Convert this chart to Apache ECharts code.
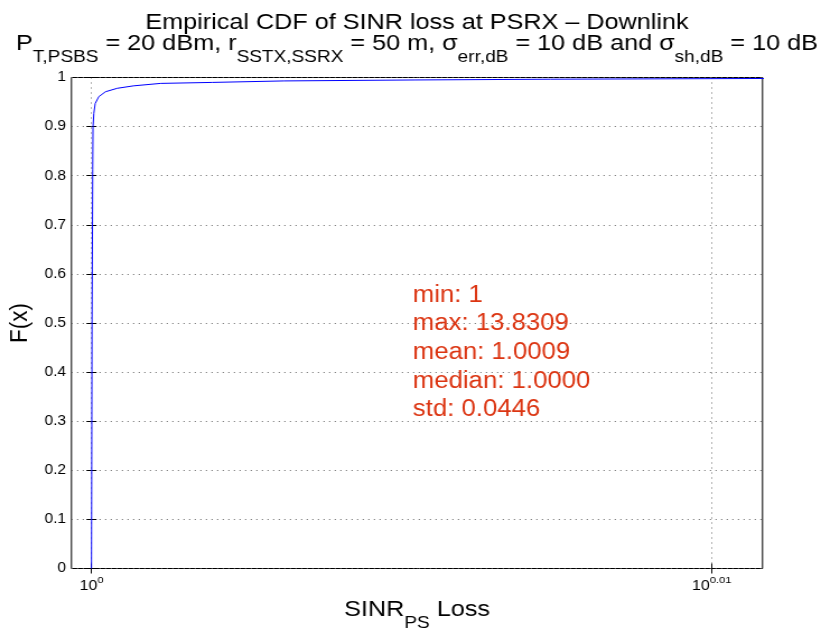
<!DOCTYPE html>
<html>
<head>
<meta charset="utf-8">
<script src="https://cdn.jsdelivr.net/npm/echarts@6/dist/echarts.min.js"></script>
<style>
  html, body { margin: 0; padding: 0; background: #fff; overflow: hidden; }
  #wrap { width: 821px; height: 633px; overflow: hidden; }
  /* the figure is laid out on a narrower canvas and widened to the page */
  #chart { width: 733px; height: 633px; transform-origin: 0 0; transform: scaleX(1.12005); }
</style>
</head>
<body>
<div id="wrap"><div id="chart"></div></div>
<script>
// Empirical CDF samples: SINR loss (linear) and F(x)
const lossValues = [1.0, 1.00002, 1.000045, 1.000056, 1.000086, 1.000137, 1.000271,
                    1.00052, 1.000955, 1.00156, 1.00257, 1.0045, 1.00716, 1.0121,
                    1.01719, 1.0253, 13.8309];
const cdfValues  = [0, 0.5, 0.812, 0.9, 0.927, 0.947, 0.961,
                    0.971, 0.978, 0.983, 0.988, 0.990, 0.993, 0.995,
                    0.9965, 0.998, 1];

// decade exponents shown on the log x axis
const xTickExponents = [0, 0.01];
// summary statistics printed inside the axes
const statLines = ['min: 1', 'max: 13.8309', 'mean: 1.0009', 'median: 1.0000', 'std: 0.0446'];

const titleLine1 = 'Empirical CDF of SINR loss at PSRX \u2013 Downlink';
const titleLine2 = '{m|P}{s|T,PSBS}{m| = 20 dBm, r}{s|SSTX,SSRX}{m| = 50 m, \u03c3}{s|err,dB}{m| = 10 dB and \u03c3}{s|sh,dB}{m| = 10 dB}';

const FONT = '"Liberation Sans", Arial, Helvetica, sans-serif';

const seriesData = lossValues.map((v, i) => [Math.log10(v), cdfValues[i]]);

const chart = echarts.init(document.getElementById('chart'), null, { renderer: 'canvas' });

const xMinExp = -0.000323;
const xMaxExp = 0.01082;

const dotted = { color: '#666', width: 1, type: [1, 4] };

function xAxisCommon(pos, showLabel) {
  return {
    type: 'value',
    position: pos,
    min: xMinExp,
    max: xMaxExp,
    gridIndex: 0,
    axisLine: { show: false },
    axisTick: { show: true, inside: true, length: 5, customValues: xTickExponents,
                lineStyle: { color: '#000', width: 1 } },
    splitLine: { show: pos === 'bottom', lineStyle: dotted },
    axisLabel: {
      show: showLabel,
      customValues: xTickExponents,
      margin: 7,
      formatter: v => '{b|10}{s|' + String(+v.toFixed(4)) + '}',
      rich: {
        b: { fontFamily: FONT, fontSize: 14.3, color: '#000', lineHeight: 17, verticalAlign: 'top', padding: [4, 0, 0, 0] },
        s: { fontFamily: FONT, fontSize: 9.9, color: '#000', lineHeight: 11, verticalAlign: 'top' }
      }
    }
  };
}

function yAxisCommon(pos, showLabel) {
  return {
    type: 'value',
    position: pos,
    min: 0,
    max: 1,
    interval: 0.1,
    axisLine: { show: false },
    axisTick: { show: true, inside: true, length: 4.5, lineStyle: { color: '#000', width: 1 } },
    splitLine: { show: pos === 'left', lineStyle: dotted },
    axisLabel: { show: showLabel, margin: 4.9, fontFamily: FONT, fontSize: 13.8, color: '#000' }
  };
}

const xBottom = xAxisCommon('bottom', true);
xBottom.name = '{m|SINR}{s|PS}{m| Loss}';
xBottom.nameLocation = 'middle';
xBottom.nameGap = 28.5;
xBottom.nameTextStyle = {
  rich: {
    m: { fontFamily: FONT, fontSize: 22.5, color: '#000', lineHeight: 22, verticalAlign: 'top' },
    s: { fontFamily: FONT, fontSize: 17, color: '#000', lineHeight: 17, verticalAlign: 'top', padding: [16.7, 0, 0, 0] }
  }
};

const yLeft = yAxisCommon('left', true);
yLeft.name = 'F(x)';
yLeft.nameLocation = 'middle';
yLeft.nameRotate = 90;
yLeft.nameGap = 28;
yLeft.nameTextStyle = { fontFamily: FONT, fontSize: 22.5, color: '#000' };

const option = {
  animation: false,
  backgroundColor: '#fff',
  grid: {
    left: 63.8, right: 52.2, top: 77.5, bottom: 64.5,
    containLabel: false,
    outerBoundsMode: 'none',
    show: true, borderColor: '#000', borderWidth: 1, backgroundColor: '#fff'
  },
  xAxis: [xBottom, xAxisCommon('top', false)],
  yAxis: [yLeft, yAxisCommon('right', false)],
  series: [{
    type: 'line',
    xAxisIndex: 0,
    yAxisIndex: 0,
    data: seriesData,
    showSymbol: false,
    symbol: 'none',
    clip: true,
    lineStyle: { color: '#0000ff', width: 1 },
    z: 3
  }],
  graphic: [
    {
      type: 'text', x: 372.3, y: 11.6, z: 10,
      style: { text: titleLine1, align: 'center', verticalAlign: 'top',
               fontFamily: FONT, fontSize: 22.5, lineHeight: 22, fill: '#000' }
    },
    {
      type: 'text', x: 372.3, y: 31.8, z: 10,
      style: {
        text: titleLine2, align: 'center', verticalAlign: 'top',
        rich: {
          m: { fontFamily: FONT, fontSize: 22.5, fill: '#000', lineHeight: 22, verticalAlign: 'top' },
          s: { fontFamily: FONT, fontSize: 17, fill: '#000', lineHeight: 17, verticalAlign: 'top', padding: [16.7, 0, 0, 0] }
        }
      }
    },
    {
      type: 'text', x: 368.5, y: 280.9, z: 10,
      style: { text: statLines.join('\n'), align: 'left', verticalAlign: 'top',
               fontFamily: FONT, fontSize: 23, lineHeight: 28.7, fill: '#dc3512' }
    }
  ]
};

chart.setOption(option);
</script>
</body>
</html>
